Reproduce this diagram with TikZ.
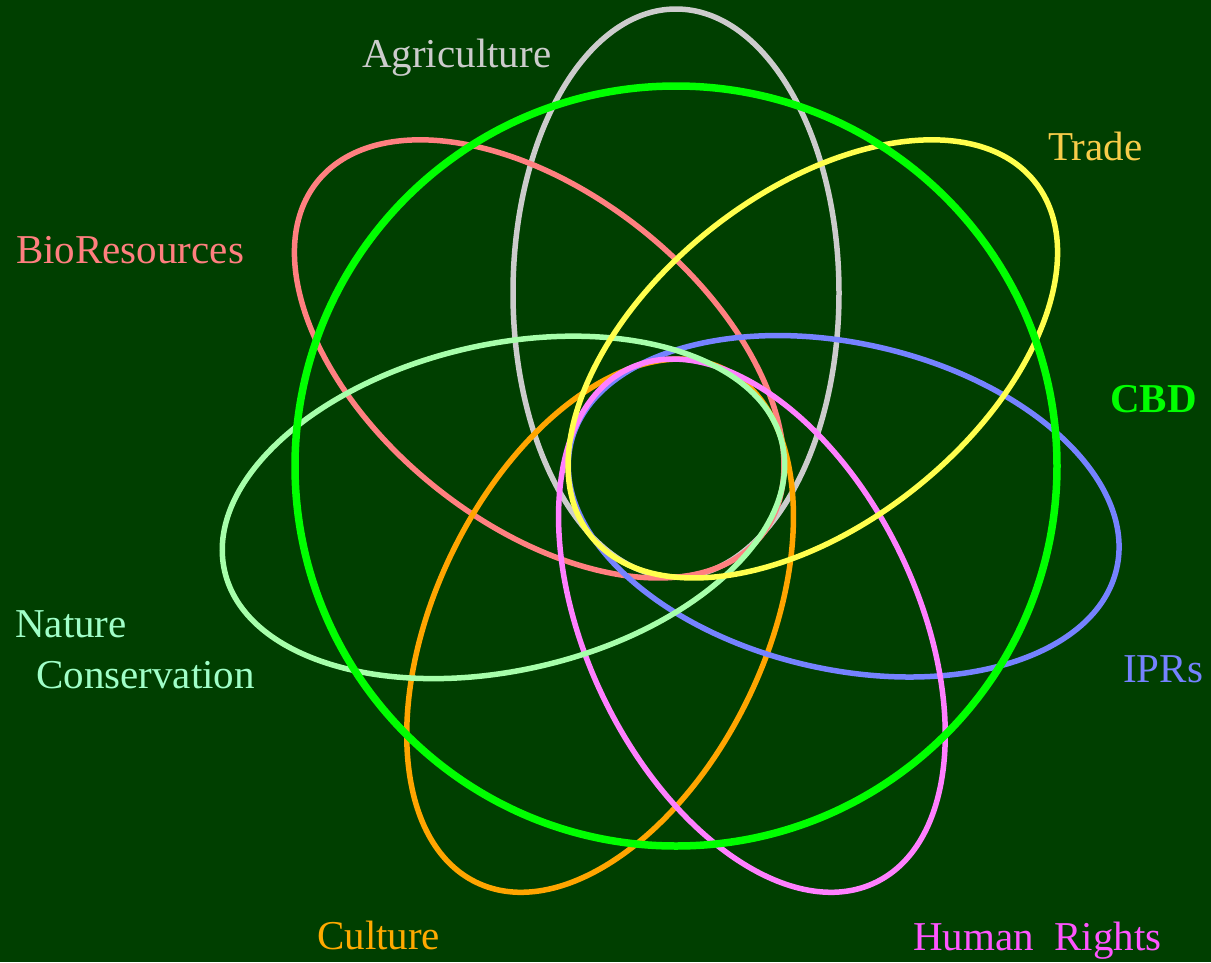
\documentclass[tikz,border=0pt]{standalone}
\usepackage{fontspec}
\setmainfont{Liberation Serif}
\definecolor{bg}{RGB}{0,63,0}
\definecolor{agri}{RGB}{204,204,204}
\definecolor{bio}{RGB}{255,128,128}
\definecolor{biotxt}{RGB}{255,127,127}
\definecolor{nature}{RGB}{166,255,170}
\definecolor{naturetxt}{RGB}{160,255,200}
\definecolor{culture}{RGB}{255,165,0}
\definecolor{culturetxt}{RGB}{255,170,0}
\definecolor{human}{RGB}{255,128,255}
\definecolor{humantxt}{RGB}{255,85,255}
\definecolor{ipr}{RGB}{117,130,255}
\definecolor{trade}{RGB}{255,255,77}
\definecolor{tradetxt}{RGB}{248,204,74}
\definecolor{cbd}{RGB}{0,255,0}
\tikzset{
  petal/.style={line width=5.5pt},
  lbl/.style={anchor=base west, inner sep=0pt, font=\fontsize{41}{48}\selectfont},
}
\begin{document}
\begin{tikzpicture}[x=1pt,y=-1pt]
\fill[bg] (0,0) rectangle (1211,962);
\useasboundingbox (0,0) rectangle (1211,962);
\begin{scope}[shift={(676,468)}]
  \draw[petal,agri,rotate=90] (175,0) ellipse [x radius=284, y radius=163];
  \draw[petal,bio,rotate=141.43] (175,0) ellipse [x radius=284, y radius=165];
  \draw[petal,culture,rotate=244.29] (175,0) ellipse [x radius=285, y radius=165];
  \draw[petal,ipr,rotate=347.14] (172,0) ellipse [x radius=280, y radius=163];
  \draw[petal,human,rotate=295.71] (175,0) ellipse [x radius=285, y radius=165];
  \draw[petal,nature,rotate=192.86] (177,0) ellipse [x radius=286, y radius=163];
  \draw[petal,trade,rotate=38.57] (175,0) ellipse [x radius=284, y radius=165];
\end{scope}
\draw[cbd,line width=7.5pt] (676,466) ellipse [x radius=381, y radius=380];
\node[lbl,text=agri] (agriculture) at (362,67) {Agriculture};
\node[lbl,text=tradetxt] (tradelbl) at (1048,160) {Trade};
\node[lbl,text=biotxt] (biolbl) at (16,263) {BioResources};
\node[lbl,text=cbd,font=\fontsize{41}{48}\selectfont\bfseries] (cbdlbl) at (1110,412) {CBD};
\node[lbl,text=naturetxt] (naturelbl) at (15,637) {Nature};
\node[lbl,text=naturetxt] (conslbl) at (36,688) {Conservation};
\node[lbl,text=ipr] (iprlbl) at (1123,682) {IPRs};
\node[lbl,text=culturetxt] (culturelbl) at (317,949) {Culture};
\node[lbl,text=humantxt] (humanlbl) at (913,950) {Human\hspace{0.5em}Rights};
\end{tikzpicture}
\end{document}
